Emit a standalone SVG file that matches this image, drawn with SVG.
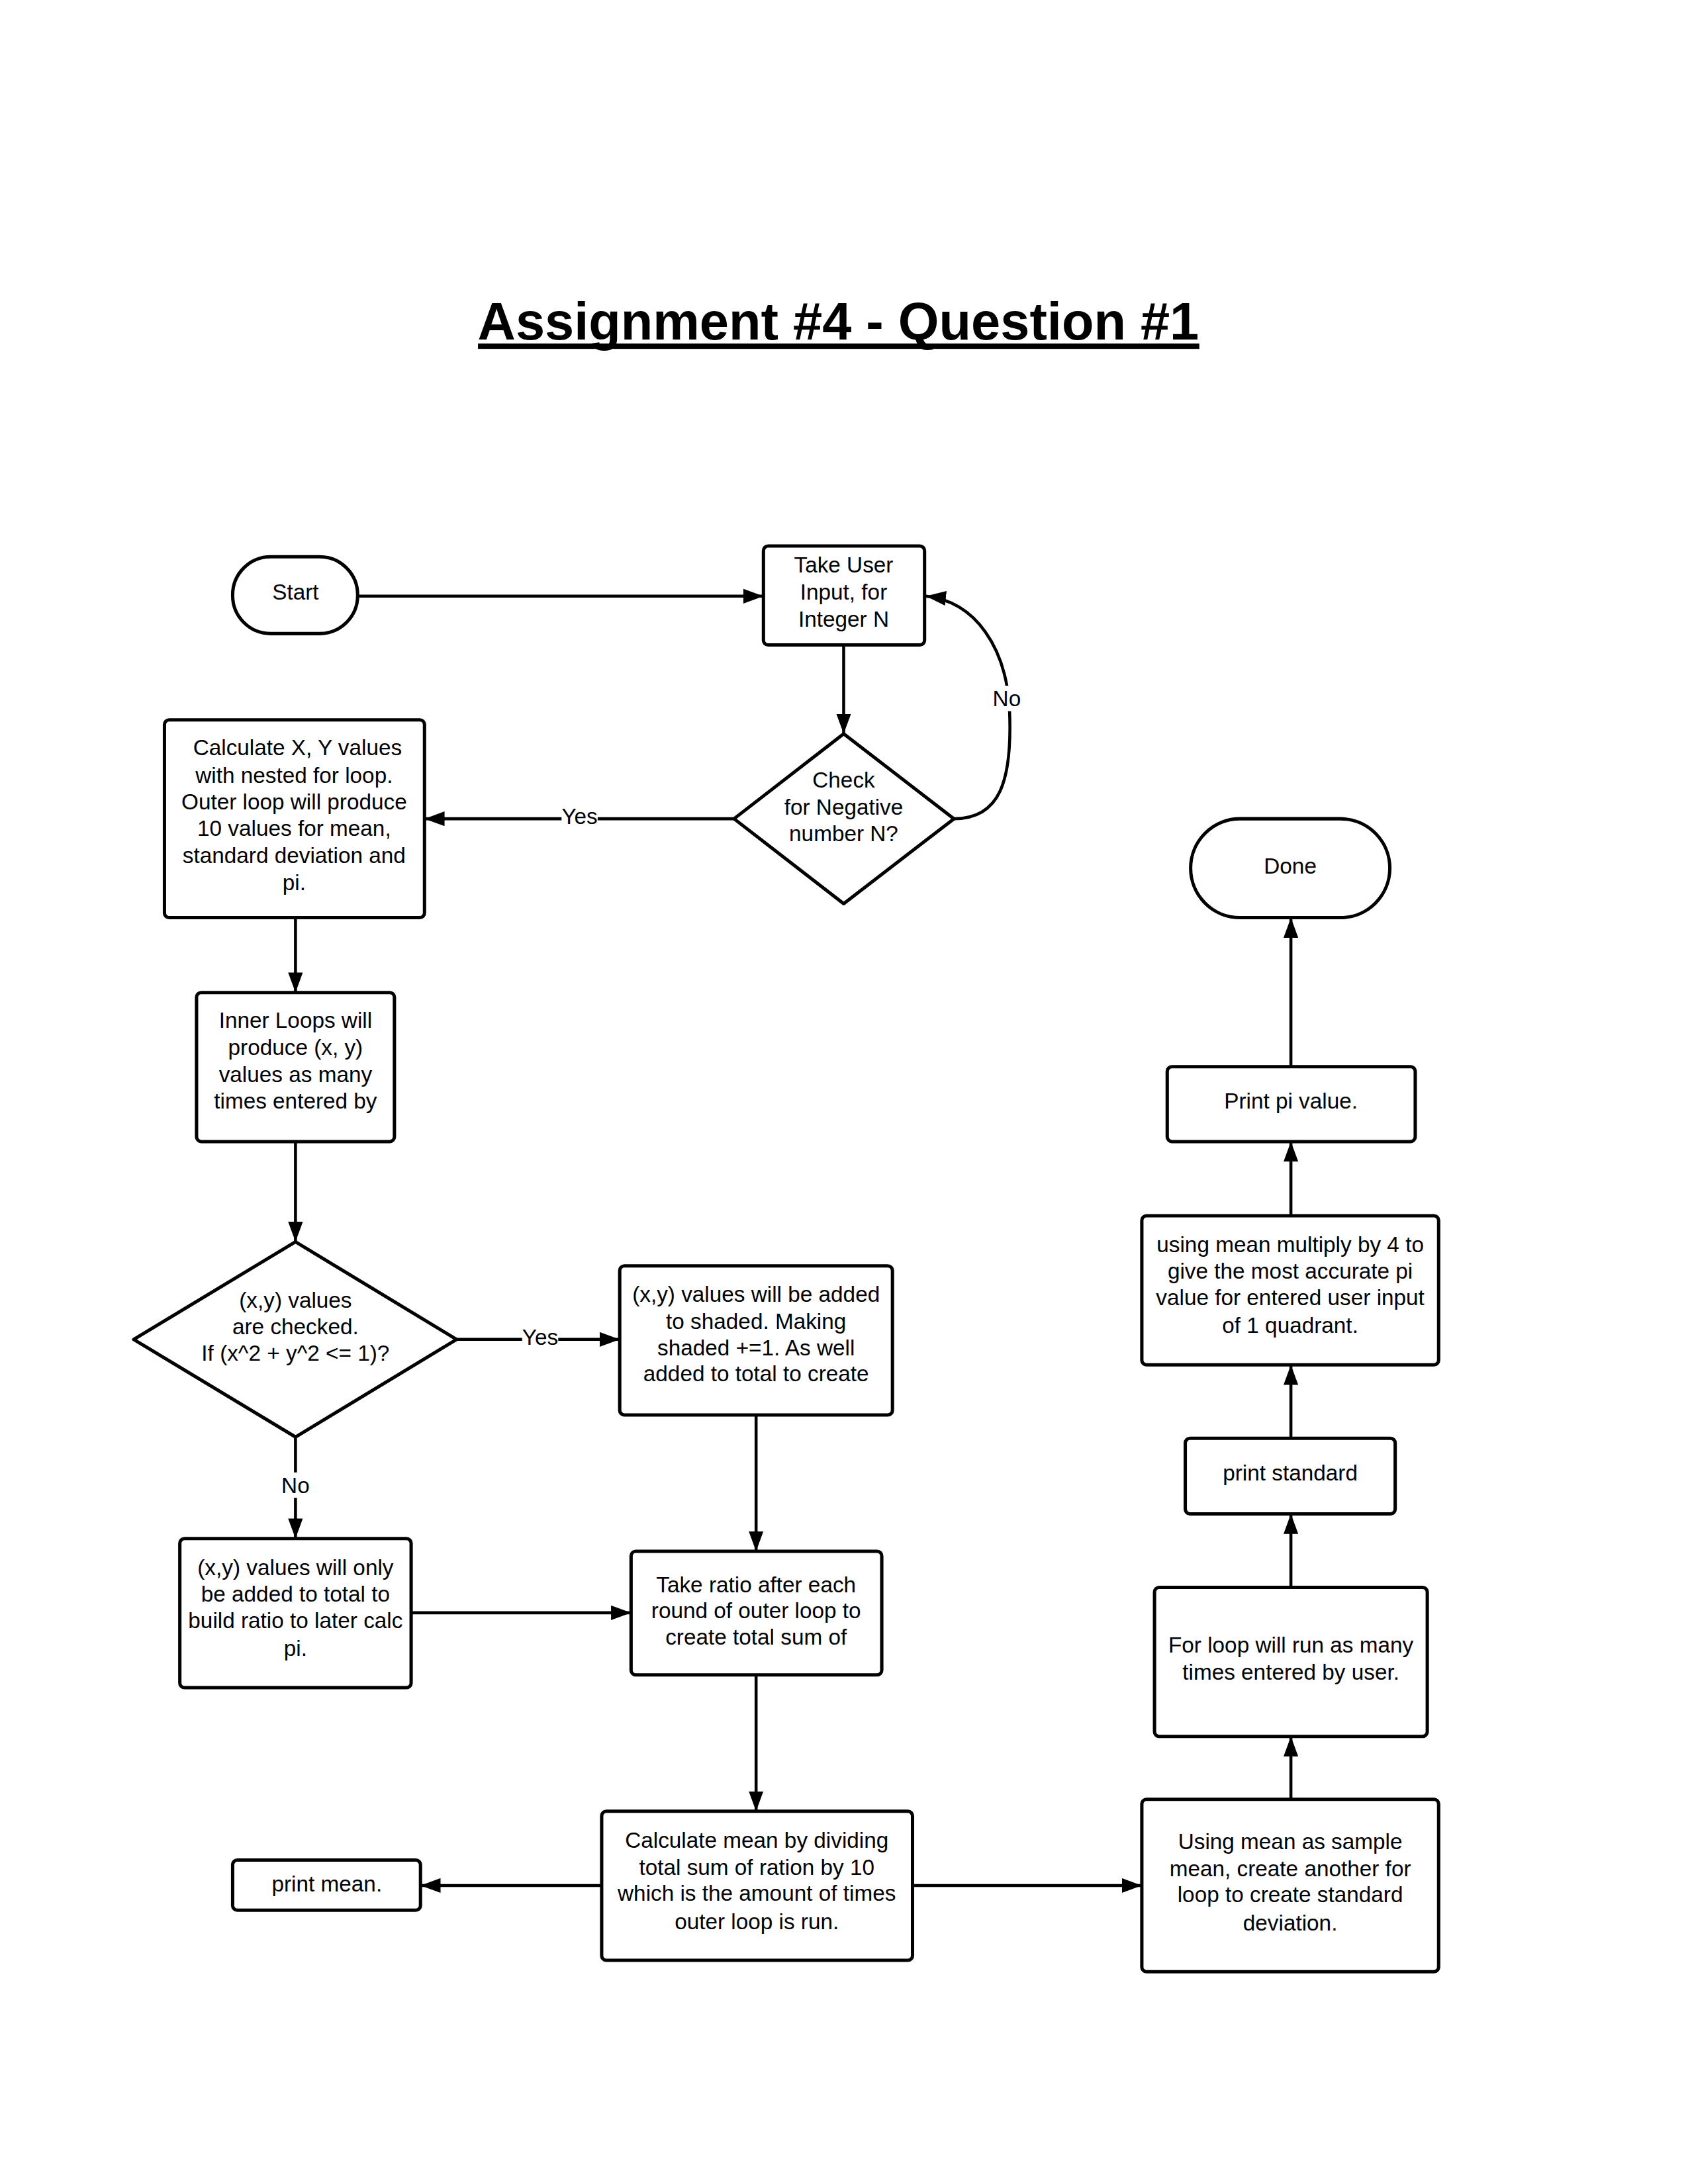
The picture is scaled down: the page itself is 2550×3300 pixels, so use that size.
<svg xmlns="http://www.w3.org/2000/svg" width="2550" height="3300" viewBox="0 0 2550 3300">
<style>
.n{fill:#fff;stroke:#000;stroke-width:5}
.t{font-family:"Liberation Sans",Arial,sans-serif;font-size:33px;fill:#000;text-anchor:middle}
.c{fill:none;stroke:#000;stroke-width:4.5}
.lb{fill:#fff}
</style>
<defs>
<marker id="a" markerUnits="userSpaceOnUse" markerWidth="30" markerHeight="22" refX="30" refY="11" orient="auto">
<path d="M0,0 L30,11 L0,22 z" fill="#000"/>
</marker>
</defs>
<rect width="2550" height="3300" fill="#fff"/>
<g transform="scale(1.0099)">
<g id="title">
<text x="1254" y="508" style="font-family:'Liberation Sans',Arial,sans-serif;font-weight:bold;font-size:78px;text-anchor:middle" textLength="1079" lengthAdjust="spacingAndGlyphs">Assignment #4 - Question #1</text>
<rect x="715" y="514" width="1079" height="8" fill="#000"/>
</g>
<g id="connectors">
<path class="c" d="M535,892 H1142" marker-end="url(#a)"/>
<path class="c" d="M1262,965 V1098" marker-end="url(#a)"/>
<path class="c" d="M1098,1225 H635" marker-end="url(#a)"/>
<rect class="lb" x="840" y="1205" width="54" height="36"/>
<text class="t" x="867" y="1233">Yes</text>
<path class="c" d="M1427,1225 C1495,1225 1515,1170 1510,1060 C1505,970 1460,900 1385,892" marker-end="url(#a)"/>
<rect class="lb" x="1486" y="1026" width="44" height="38"/>
<text class="t" x="1506" y="1057">No</text>
<path class="c" d="M442,1373 V1485" marker-end="url(#a)"/>
<path class="c" d="M442,1708 V1858" marker-end="url(#a)"/>
<path class="c" d="M683,2004 H927" marker-end="url(#a)"/>
<rect class="lb" x="781" y="1985" width="54" height="36"/>
<text class="t" x="808" y="2012">Yes</text>
<path class="c" d="M442,2150 V2302" marker-end="url(#a)"/>
<rect class="lb" x="420" y="2203" width="44" height="38"/>
<text class="t" x="442" y="2234">No</text>
<path class="c" d="M1131,2117 V2321" marker-end="url(#a)"/>
<path class="c" d="M615,2413 H944" marker-end="url(#a)"/>
<path class="c" d="M1131,2506 V2710" marker-end="url(#a)"/>
<path class="c" d="M900,2821 H629" marker-end="url(#a)"/>
<path class="c" d="M1365,2821 H1708" marker-end="url(#a)"/>
<path class="c" d="M1931,2692 V2598" marker-end="url(#a)"/>
<path class="c" d="M1931,2375 V2265" marker-end="url(#a)"/>
<path class="c" d="M1931,2152 V2042" marker-end="url(#a)"/>
<path class="c" d="M1931,1819 V1708" marker-end="url(#a)"/>
<path class="c" d="M1931,1596 V1373" marker-end="url(#a)"/>
</g>
<g id="start">
<rect class="n" x="348" y="833" width="187" height="115" rx="57" ry="57"/>
<text class="t" x="442" y="897">Start</text>
</g>
<g id="input">
<rect class="n" x="1142" y="817" width="241" height="148" rx="7"/>
<text class="t"><tspan x="1262" y="857">Take User</tspan><tspan x="1262" y="897">Input, for</tspan><tspan x="1262" y="938">Integer N</tspan></text>
</g>
<g id="check">
<path class="n" d="M1262,1098 L1427,1225 L1262,1352 L1098,1225 Z" stroke-linejoin="round"/>
<text class="t"><tspan x="1262" y="1178">Check</tspan><tspan x="1262" y="1219">for Negative</tspan><tspan x="1262" y="1259">number N?</tspan></text>
</g>
<g id="calcxy">
<rect class="n" x="246" y="1077" width="389" height="296" rx="7"/>
<text class="t"><tspan x="445" y="1130">Calculate X, Y values</tspan><tspan x="440" y="1171">with nested for loop.</tspan><tspan x="440" y="1211">Outer loop will produce</tspan><tspan x="440" y="1251">10 values for mean,</tspan><tspan x="440" y="1291">standard deviation and</tspan><tspan x="440" y="1332">pi.</tspan></text>
</g>
<g id="inner">
<rect class="n" x="294" y="1485" width="296" height="223" rx="7"/>
<text class="t"><tspan x="442" y="1538">Inner Loops will</tspan><tspan x="442" y="1578">produce (x, y)</tspan><tspan x="442" y="1619">values as many</tspan><tspan x="442" y="1659">times entered by</tspan></text>
</g>
<g id="check2">
<path class="n" d="M442,1858 L683,2004 L442,2150 L200,2004 Z" stroke-linejoin="round"/>
<text class="t"><tspan x="442" y="1957">(x,y) values</tspan><tspan x="442" y="1996">are checked.</tspan><tspan x="442" y="2036">If (x^2 + y^2 &lt;= 1)?</tspan></text>
</g>
<g id="added">
<rect class="n" x="927" y="1894" width="408" height="223" rx="7"/>
<text class="t"><tspan x="1131" y="1948">(x,y) values will be added</tspan><tspan x="1131" y="1988">to shaded. Making</tspan><tspan x="1131" y="2028">shaded +=1. As well</tspan><tspan x="1131" y="2067">added to total to create</tspan></text>
</g>
<g id="only">
<rect class="n" x="269" y="2302" width="346" height="223" rx="7"/>
<text class="t"><tspan x="442" y="2357">(x,y) values will only</tspan><tspan x="442" y="2396">be added to total to</tspan><tspan x="442" y="2436">build ratio to later calc</tspan><tspan x="442" y="2477">pi.</tspan></text>
</g>
<g id="ratio">
<rect class="n" x="944" y="2321" width="375" height="185" rx="7"/>
<text class="t"><tspan x="1131" y="2382">Take ratio after each</tspan><tspan x="1131" y="2421">round of outer loop to</tspan><tspan x="1131" y="2461">create total sum of</tspan></text>
</g>
<g id="mean">
<rect class="n" x="900" y="2710" width="465" height="223" rx="7"/>
<text class="t"><tspan x="1132" y="2765">Calculate mean by dividing</tspan><tspan x="1132" y="2805">total sum of ration by 10</tspan><tspan x="1132" y="2844">which is the amount of times</tspan><tspan x="1132" y="2886">outer loop is run.</tspan></text>
</g>
<g id="printmean">
<rect class="n" x="348" y="2783" width="281" height="75" rx="7"/>
<text class="t" x="489" y="2830">print mean.</text>
</g>
<g id="stddev">
<rect class="n" x="1708" y="2692" width="444" height="258" rx="7"/>
<text class="t"><tspan x="1930" y="2767">Using mean as sample</tspan><tspan x="1930" y="2807">mean, create another for</tspan><tspan x="1930" y="2846">loop to create standard</tspan><tspan x="1930" y="2888">deviation.</tspan></text>
</g>
<g id="forloop">
<rect class="n" x="1727" y="2375" width="408" height="223" rx="7"/>
<text class="t"><tspan x="1931" y="2473">For loop will run as many</tspan><tspan x="1931" y="2513">times entered by user.</tspan></text>
</g>
<g id="printstd">
<rect class="n" x="1773" y="2152" width="314" height="113" rx="7"/>
<text class="t" x="1930" y="2215">print standard</text>
</g>
<g id="multiply">
<rect class="n" x="1708" y="1819" width="444" height="223" rx="7"/>
<text class="t"><tspan x="1930" y="1873">using mean multiply by 4 to</tspan><tspan x="1930" y="1913">give the most accurate pi</tspan><tspan x="1930" y="1953">value for entered user input</tspan><tspan x="1930" y="1994">of 1 quadrant.</tspan></text>
</g>
<g id="printpi">
<rect class="n" x="1746" y="1596" width="371" height="112" rx="7"/>
<text class="t" x="1931" y="1659">Print pi value.</text>
</g>
<g id="done">
<rect class="n" x="1781" y="1225" width="298" height="148" rx="74" ry="74"/>
<text class="t" x="1930" y="1307">Done</text>
</g>
</g>
</svg>
